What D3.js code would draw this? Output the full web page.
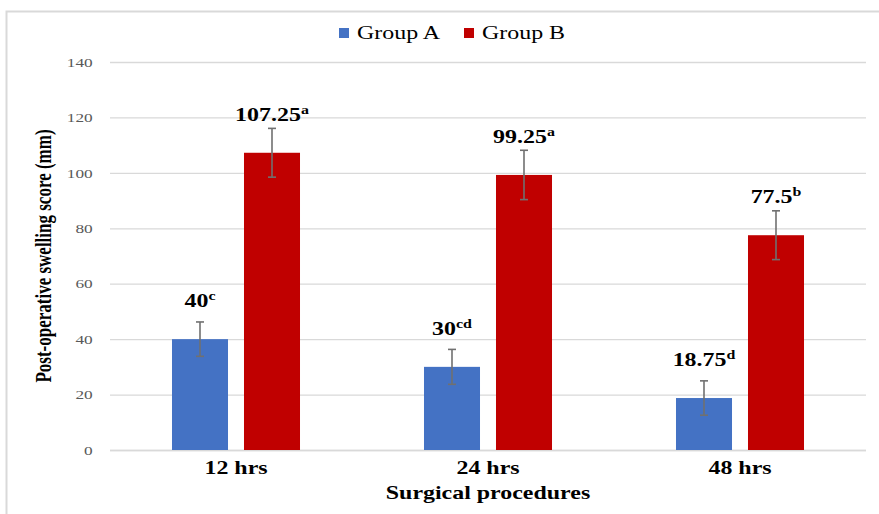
<!DOCTYPE html>
<html>
<head>
<meta charset="utf-8">
<script src="https://cdn.jsdelivr.net/npm/d3@7"></script>
<style>
  body { margin: 0; background: #fff; }
  text { font-family: "Liberation Serif", "Times New Roman", serif; }
</style>
</head>
<body>
<div id="chart"></div>
<script>
// values
var categories = ['12 hrs', '24 hrs', '48 hrs'];
var groups = ['Group A', 'Group B'];
var groupA = [40, 30, 18.75];
var groupB = [107.25, 99.25, 77.5];
var errA = [6.2, 6.3, 6.2];
var errB = [8.8, 8.9, 8.8];
var supA = ['c', 'cd', 'd'];
var supB = ['a', 'a', 'b'];
var yTicks = [0, 20, 40, 60, 80, 100, 120, 140];

var colors = ['#4472c4', '#c00000'];
var sx = 1.33; // picture is stretched sideways

var W = 879, H = 514;
var svg = d3.select('#chart').append('svg')
  .attr('width', W)
  .attr('height', H);

// outer frame
svg.append('rect')
  .attr('x', 6.5).attr('y', 11.5)
  .attr('width', 900).attr('height', 600)
  .attr('fill', 'none')
  .attr('stroke', '#d9d9d9')
  .attr('stroke-width', 2);

var x0 = d3.scaleBand()
  .domain(categories)
  .range([110, 866]);

var x1 = d3.scaleBand()
  .domain(groups)
  .range([0, x0.bandwidth()])
  .paddingInner(0.222)
  .paddingOuter(0.861);

var y = d3.scaleLinear()
  .domain([0, 140])
  .range([450, 62]);

// gridlines
svg.append('g')
  .selectAll('line')
  .data(yTicks)
  .enter()
  .append('line')
  .attr('x1', 110).attr('x2', 866)
  .attr('y1', function(d) { return y(d) + 0.5; })
  .attr('y2', function(d) { return y(d) + 0.5; })
  .attr('stroke', '#d9d9d9')
  .attr('stroke-width', 1.3);

// y axis labels
var yAxis = d3.axisLeft(y).tickValues(yTicks).tickSize(0).tickPadding(13);
var yG = svg.append('g')
  .attr('transform', 'translate(110,0)')
  .call(yAxis);
yG.select('.domain').remove();
yG.selectAll('text')
  .attr('fill', '#595959')
  .style('font-size', '13px')
  .style('font-family', '"Liberation Serif", serif')
  .attr('transform', 'scale(' + sx + ',1)');

// x axis labels
var xAxis = d3.axisBottom(x0).tickSize(0).tickPadding(11);
var xG = svg.append('g')
  .attr('transform', 'translate(0,450)')
  .call(xAxis);
xG.select('.domain').remove();
xG.selectAll('.tick text')
  .attr('fill', '#000')
  .style('font-size', '18px')
  .style('font-weight', 'bold')
  .style('font-family', '"Liberation Serif", serif')
  .attr('transform', 'scale(' + sx + ',1)')
  .attr('x', 0);

// baseline
svg.append('line')
  .attr('x1', 110).attr('x2', 866)
  .attr('y1', y(0) + 0.5).attr('y2', y(0) + 0.5)
  .attr('stroke', '#d9d9d9')
  .attr('stroke-width', 1.5);

// build rows for the bars
var rows = [];
categories.forEach(function(c, i) {
  rows.push({ cat: c, grp: groups[0], v: groupA[i], e: errA[i], sup: supA[i], col: colors[0] });
  rows.push({ cat: c, grp: groups[1], v: groupB[i], e: errB[i], sup: supB[i], col: colors[1] });
});

function bx(d) { return x0(d.cat) + x1(d.grp); }
function cx(d) { return bx(d) + x1.bandwidth() / 2; }

svg.append('g')
  .selectAll('rect')
  .data(rows)
  .enter()
  .append('rect')
  .attr('x', bx)
  .attr('y', function(d) { return y(d.v); })
  .attr('width', x1.bandwidth())
  .attr('height', function(d) { return y(0) - y(d.v); })
  .attr('fill', function(d) { return d.col; });

// error bars
var eb = svg.append('g')
  .selectAll('g')
  .data(rows)
  .enter()
  .append('g')
  .attr('stroke', '#707070')
  .attr('stroke-width', 1.6);
eb.append('line')
  .attr('x1', cx).attr('x2', cx)
  .attr('y1', function(d) { return y(d.v + d.e); })
  .attr('y2', function(d) { return y(d.v - d.e); });
eb.append('line')
  .attr('x1', function(d) { return cx(d) - 4; })
  .attr('x2', function(d) { return cx(d) + 4; })
  .attr('y1', function(d) { return y(d.v + d.e); })
  .attr('y2', function(d) { return y(d.v + d.e); });
eb.append('line')
  .attr('x1', function(d) { return cx(d) - 4; })
  .attr('x2', function(d) { return cx(d) + 4; })
  .attr('y1', function(d) { return y(d.v - d.e); })
  .attr('y2', function(d) { return y(d.v - d.e); });

// value labels with letters
var lab = svg.append('g')
  .selectAll('text')
  .data(rows)
  .enter()
  .append('text')
  .attr('transform', function(d) {
    return 'translate(' + cx(d) + ',' + (y(d.v) - 32) + ') scale(' + sx + ',1)';
  })
  .attr('text-anchor', 'middle')
  .style('font-size', '18px')
  .style('font-weight', 'bold')
  .attr('fill', '#000');
lab.append('tspan').text(function(d) { return d.v; });
lab.append('tspan')
  .attr('dy', -7)
  .style('font-size', '12px')
  .text(function(d) { return d.sup; });

// axis titles
svg.append('text')
  .attr('transform', 'translate(488,499) scale(' + sx + ',1)')
  .attr('text-anchor', 'middle')
  .style('font-size', '18px')
  .style('font-weight', 'bold')
  .text('Surgical procedures');

svg.append('text')
  .attr('transform', 'translate(51,256) scale(' + sx + ',1) rotate(-90)')
  .attr('text-anchor', 'middle')
  .style('font-size', '17px')
  .style('font-weight', 'bold')
  .text('Post-operative swelling score (mm)');

// legend
var leg = svg.append('g')
  .selectAll('g')
  .data(groups)
  .enter()
  .append('g')
  .attr('transform', function(d, i) { return 'translate(' + (339 + i * 125) + ',0)'; });
leg.append('rect')
  .attr('x', 0).attr('y', 28)
  .attr('width', 10).attr('height', 10)
  .attr('fill', function(d, i) { return colors[i]; });
leg.append('text')
  .attr('transform', 'translate(18,39) scale(' + sx + ',1)')
  .style('font-size', '18px')
  .attr('fill', '#000')
  .text(function(d) { return d; });
</script>
</body>
</html>
